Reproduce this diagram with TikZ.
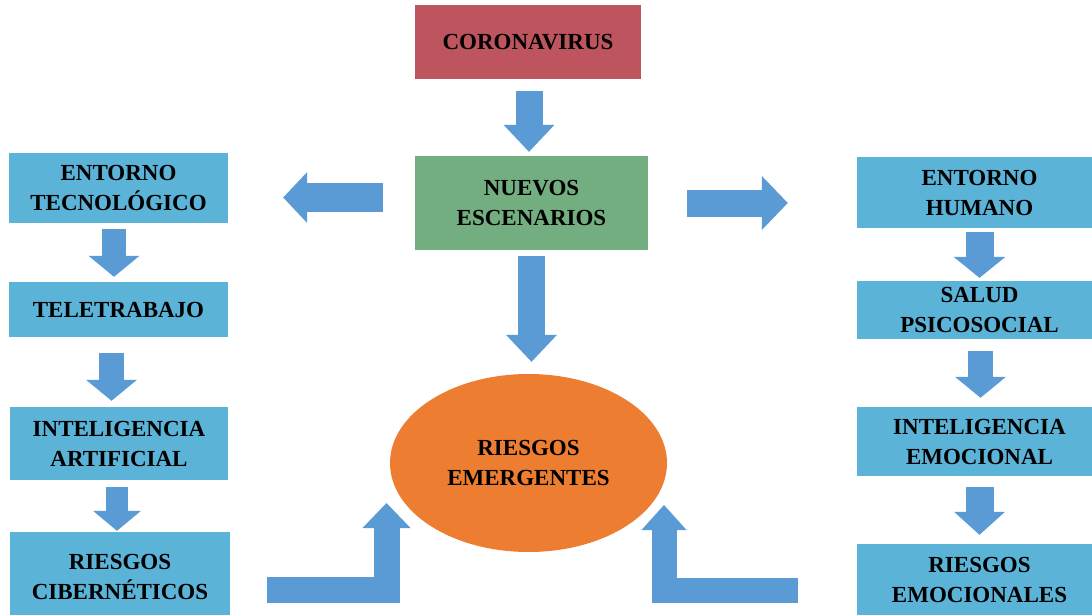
\documentclass[tikz,border=0pt]{standalone}
\usepackage{fontspec}
\setmainfont{Liberation Serif}
\usetikzlibrary{arrows.meta,shapes.geometric}

\definecolor{virusred}{RGB}{190,84,93}
\definecolor{scenegreen}{RGB}{115,174,128}
\definecolor{boxblue}{RGB}{91,179,215}
\definecolor{arrowblue}{RGB}{91,155,213}
\definecolor{riskorange}{RGB}{237,125,49}

\tikzset{
  labeltext/.style={font=\fontsize{23}{30}\selectfont\bfseries, align=center,
                    text=black, inner sep=0pt},
  rect/.style n args={3}{labeltext, rectangle, fill=#1,
                    minimum width=#2pt, minimum height=#3pt},
  % block arrow: shaft width, head width, head length
  blk/.style n args={3}{draw=arrowblue, line width=#1pt, line join=miter,
                    -{Triangle[width=#2pt,length=#3pt,line width=0pt]}},
}

\begin{document}
\begin{tikzpicture}[x=1pt,y=-1pt]
\useasboundingbox (0,0) rectangle (1092,615);
\clip (0,0) rectangle (1092,615);

% centre column
\node[rect={virusred}{226}{74}]   (cor) at (528,42)    {CORONAVIRUS};
\node[rect={scenegreen}{233}{94}] (nue) at (531.5,203) {NUEVOS\\ESCENARIOS};
\node[labeltext, ellipse, fill=riskorange, minimum width=277pt, minimum height=178pt]
      (ell) at (528.5,463) {RIESGOS\\EMERGENTES};

% left column
\node[rect={boxblue}{219}{70}] (ent) at (118.5,188)   {ENTORNO\\TECNOLÓGICO};
\node[rect={boxblue}{219}{55}] (tel) at (118.5,309.5) {TELETRABAJO};
\node[rect={boxblue}{218}{73}] (ia)  at (119,443.5)   {INTELIGENCIA\\ARTIFICIAL};
\node[rect={boxblue}{220}{89}] (rc)  at (120,576.5)   {RIESGOS\\CIBERNÉTICOS};

% right column
\node[rect={boxblue}{245}{71}] (eh) at (979.5,192.5) {ENTORNO\\HUMANO};
\node[rect={boxblue}{245}{58}] (sp) at (979.5,310)   {SALUD\\PSICOSOCIAL};
\node[rect={boxblue}{245}{69}] (ie) at (979.5,441.5) {INTELIGENCIA\\EMOCIONAL};
\node[rect={boxblue}{245}{72}] (re) at (979.5,580)   {RIESGOS\\EMOCIONALES};

% centre arrows
\draw[blk={27}{51}{27}] ([xshift=1pt,yshift=-12pt]cor.south) -- ([xshift=-2.5pt,yshift=4pt]nue.north);
\draw[blk={29}{51}{24}] ([xshift=-32pt,yshift=5.5pt]nue.west) -- ([xshift=55pt,yshift=-9.5pt]ent.east);
\draw[blk={27}{54}{26}] ([xshift=39pt]nue.east) -- ([xshift=-69pt,yshift=-10.5pt]eh.west);
\draw[blk={27}{51}{27}] ([yshift=-6pt]nue.south) -- ([xshift=3pt,yshift=12pt]ell.north);

% left column arrows
\draw[blk={24}{51}{21}] ([xshift=-4.5pt,yshift=-6pt]ent.south) -- ([xshift=-4.5pt,yshift=5pt]tel.north);
\draw[blk={25}{51}{21}] ([xshift=-7pt,yshift=-16pt]tel.south) -- ([xshift=-7.5pt,yshift=6pt]ia.north);
\draw[blk={22}{48}{20}] ([xshift=-2pt,yshift=-7pt]ia.south) -- ([xshift=-3pt,yshift=1pt]rc.north);

% right column arrows
\draw[blk={28}{52}{21}] ([yshift=-4pt]eh.south) -- ([yshift=3pt]sp.north);
\draw[blk={25}{51}{21}] ([xshift=1pt,yshift=-12pt]sp.south) -- ([xshift=1pt,yshift=9pt]ie.north);
\draw[blk={28}{51}{23}] ([yshift=-11pt]ie.south) -- ([yshift=9pt]re.north);

% bent arrows feeding the ellipse from below
\coordinate (lfoot) at (267,589.5);
\coordinate (ltip)  at (386.5,503);
\coordinate (rfoot) at (798,590.5);
\coordinate (rtip)  at (664,505);
\draw[blk={26}{48}{25}] (lfoot) -| (ltip);
\draw[blk={25}{45}{25}] (rfoot) -| (rtip);
\end{tikzpicture}
\end{document}
